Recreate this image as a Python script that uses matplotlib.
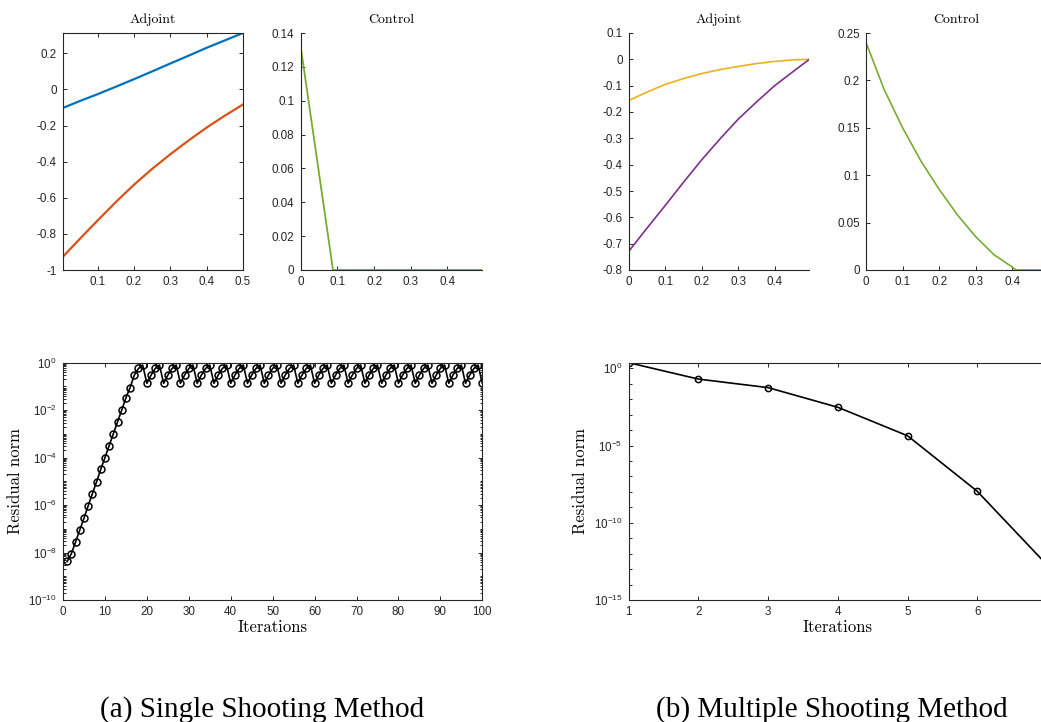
import numpy as np
import matplotlib
matplotlib.use('Agg')
import matplotlib.pyplot as plt
from matplotlib.ticker import FixedLocator, FuncFormatter, NullFormatter

# single shooting: adjoint states on the time grid
ss_t = [0.005, 0.05, 0.1, 0.15, 0.2, 0.25, 0.3, 0.35, 0.4, 0.45, 0.5]
ss_adj1 = [-0.102, -0.065, -0.026, 0.015, 0.057, 0.100, 0.144, 0.187, 0.231, 0.272, 0.313]
ss_adj2 = [-0.926, -0.830, -0.726, -0.624, -0.528, -0.440, -0.359, -0.283, -0.211, -0.145, -0.083]

# single shooting: control
ss_ct = [0.0, 0.088, 0.2, 0.3, 0.4, 0.495]
ss_u = [0.132, 0.0, 0.0, 0.0, 0.0, 0.0]

# multiple shooting: adjoint states
ms_t = [0.0, 0.05, 0.1, 0.15, 0.2, 0.25, 0.3, 0.35, 0.4, 0.45, 0.495]
ms_adj1 = [-0.156, -0.124, -0.095, -0.073, -0.054, -0.039, -0.027, -0.016, -0.008, -0.002, 0.0]
ms_adj2 = [-0.728, -0.640, -0.554, -0.466, -0.381, -0.302, -0.227, -0.162, -0.100, -0.047, 0.0]

# multiple shooting: control
ms_ct = [0.0, 0.05, 0.1, 0.15, 0.2, 0.25, 0.3, 0.35, 0.4, 0.41, 0.495]
ms_u = [0.240, 0.190, 0.150, 0.115, 0.085, 0.058, 0.035, 0.016, 0.003, 0.0, 0.0]

# residual norms per iteration
ss_iter = list(range(1, 101))
ss_res = [4.2e-9, 9.0e-9, 2.8e-8, 8.9e-8, 2.8e-7, 9.3e-7, 3.0e-6, 9.5e-6, 3.2e-5, 1.0e-4,
          3.2e-4, 1.0e-3, 3.2e-3, 1.0e-2, 3.3e-2, 8.9e-2, 0.30, 0.57, 0.80, 0.135,
          0.30, 0.57, 0.80, 0.135, 0.30, 0.57, 0.80, 0.135, 0.30, 0.57,
          0.80, 0.135, 0.30, 0.57, 0.80, 0.135, 0.30, 0.57, 0.80, 0.135,
          0.30, 0.57, 0.80, 0.135, 0.30, 0.57, 0.80, 0.135, 0.30, 0.57,
          0.80, 0.135, 0.30, 0.57, 0.80, 0.135, 0.30, 0.57, 0.80, 0.135,
          0.30, 0.57, 0.80, 0.135, 0.30, 0.57, 0.80, 0.135, 0.30, 0.57,
          0.80, 0.135, 0.30, 0.57, 0.80, 0.135, 0.30, 0.57, 0.80, 0.135,
          0.30, 0.57, 0.80, 0.135, 0.30, 0.57, 0.80, 0.135, 0.30, 0.57,
          0.80, 0.135, 0.30, 0.57, 0.80, 0.135, 0.30, 0.57, 0.80, 0.135]
ms_iter = [1, 2, 3, 4, 5, 6, 7]
ms_res = [2.3, 0.2, 0.056, 3.0e-3, 4.3e-5, 1.1e-8, 1.9e-13]

BLUE = '#0072BD'
ORANGE = '#D95319'
YELLOW = '#EDB120'
PURPLE = '#7E2F8E'
GREEN = '#77AC30'
AXC = '#262626'

plt.rcParams['font.family'] = ['Liberation Sans', 'DejaVu Sans']
plt.rcParams['axes.unicode_minus'] = False
plt.rcParams['mathtext.fontset'] = 'custom'
plt.rcParams['mathtext.rm'] = 'Liberation Sans'
plt.rcParams['mathtext.it'] = 'Liberation Sans:italic'

W, H = 1041, 722
fig = plt.figure(figsize=(W / 100, H / 100), dpi=100)


def px(left, right, top, bottom):
    return [left / W, 1 - bottom / H, (right - left) / W, (bottom - top) / H]


def style(ax, box):
    for s in ax.spines.values():
        s.set_color(AXC)
        s.set_linewidth(0.8)
    if not box:
        ax.spines['top'].set_visible(False)
        ax.spines['right'].set_visible(False)
    ax.tick_params(which='both', direction='in', colors=AXC, labelsize=8.4,
                   top=box, right=box, width=0.7)
    ax.tick_params(which='major', length=3.2, pad=4.5)
    ax.tick_params(which='minor', length=1.8)


def cm_title(ax, s):
    ax.set_title(s, family='cmr10', size=10, pad=7, color='black')


log_fmt = FuncFormatter(lambda v, p: r'$\mathregular{10^{%d}}$' % int(round(np.log10(v))))

# (a) adjoint
ax = fig.add_axes(px(63, 243, 33, 270))
ax.plot(ss_t, ss_adj1, color=BLUE, lw=1.6)
ax.plot(ss_t, ss_adj2, color=ORANGE, lw=1.6)
ax.set_xlim(0.005, 0.5)
ax.set_ylim(-1, 0.313)
ax.set_xticks([0.1, 0.2, 0.3, 0.4, 0.5])
ax.set_yticks([-1, -0.8, -0.6, -0.4, -0.2, 0, 0.2])
ax.set_yticklabels(['-1', '-0.8', '-0.6', '-0.4', '-0.2', '0', '0.2'])
style(ax, True)
cm_title(ax, 'Adjoint')

# (a) control
ax = fig.add_axes(px(300.7, 482.3, 33, 270))
ax.plot(ss_ct, ss_u, color=GREEN, lw=1.3)
ax.set_xlim(0, 0.495)
ax.set_ylim(0, 0.14)
ax.set_xticks([0, 0.1, 0.2, 0.3, 0.4])
ax.set_xticklabels(['0', '0.1', '0.2', '0.3', '0.4'])
ax.set_yticks([0, 0.02, 0.04, 0.06, 0.08, 0.1, 0.12, 0.14])
ax.set_yticklabels(['0', '0.02', '0.04', '0.06', '0.08', '0.1', '0.12', '0.14'])
style(ax, False)
cm_title(ax, 'Control')

# (b) adjoint
ax = fig.add_axes(px(629, 809.3, 33, 270))
ax.plot(ms_t, ms_adj1, color=YELLOW, lw=1.2)
ax.plot(ms_t, ms_adj2, color=PURPLE, lw=1.2)
ax.set_xlim(0, 0.495)
ax.set_ylim(-0.8, 0.1)
ax.set_xticks([0, 0.1, 0.2, 0.3, 0.4])
ax.set_xticklabels(['0', '0.1', '0.2', '0.3', '0.4'])
yt = [-0.8, -0.7, -0.6, -0.5, -0.4, -0.3, -0.2, -0.1, 0, 0.1]
ax.set_yticks(yt)
ax.set_yticklabels(['%g' % v for v in yt])
style(ax, False)
cm_title(ax, 'Adjoint')

# (b) control
ax = fig.add_axes(px(866, 1047.2, 33, 270))
ax.plot(ms_ct, ms_u, color=GREEN, lw=1.2)
ax.set_xlim(0, 0.495)
ax.set_ylim(0, 0.25)
ax.set_xticks([0, 0.1, 0.2, 0.3, 0.4])
ax.set_xticklabels(['0', '0.1', '0.2', '0.3', '0.4'])
yt = [0, 0.05, 0.1, 0.15, 0.2, 0.25]
ax.set_yticks(yt)
ax.set_yticklabels(['%g' % v for v in yt])
style(ax, False)
cm_title(ax, 'Control')

# (a) residual history
ax = fig.add_axes(px(63, 482.3, 362.7, 600))
ax.semilogy(ss_iter, ss_res, color='black', lw=1.2, marker='o', ms=5,
            mfc='none', mec='black', mew=1.1)
ax.set_xlim(0, 100)
ax.set_ylim(1e-10, 1)
ax.set_xticks(range(0, 101, 10))
ax.yaxis.set_major_locator(FixedLocator([10.0 ** k for k in range(-10, 1, 2)]))
ax.yaxis.set_minor_locator(FixedLocator([s * 10.0 ** k for k in range(-10, 0) for s in range(2, 11)]))
ax.yaxis.set_major_formatter(log_fmt)
ax.yaxis.set_minor_formatter(NullFormatter())
style(ax, True)
ax.set_xlabel('Iterations', family='cmr10', size=12, labelpad=1)
ax.set_ylabel('Residual norm', family='cmr10', size=12, labelpad=4)

# (b) residual history
ax = fig.add_axes(px(628.7, 1046.9, 362.7, 600))
ax.semilogy(ms_iter, ms_res, color='black', lw=1.2, marker='o', ms=4.5,
            mfc='none', mec='black', mew=1.1)
ax.set_xlim(1, 7)
ax.set_ylim(1e-15, 2.3)
ax.set_xticks(range(1, 7))
ax.yaxis.set_major_locator(FixedLocator([1e-15, 1e-10, 1e-5, 1.0]))
ax.yaxis.set_minor_locator(FixedLocator([10.0 ** k for k in range(-15, 1)]))
ax.yaxis.set_major_formatter(log_fmt)
ax.yaxis.set_minor_formatter(NullFormatter())
style(ax, True)
ax.set_xlabel('Iterations', family='cmr10', size=12, labelpad=1)
ax.set_ylabel('Residual norm', family='cmr10', size=12, labelpad=4)

fig.text(262 / W, 1 - 710 / H, '(a) Single Shooting Method', family='Liberation Serif',
         size=21, ha='center', va='center')
fig.text(832 / W, 1 - 710 / H, '(b) Multiple Shooting Method', family='Liberation Serif',
         size=21, ha='center', va='center')

fig.savefig('out.png', dpi=100)
